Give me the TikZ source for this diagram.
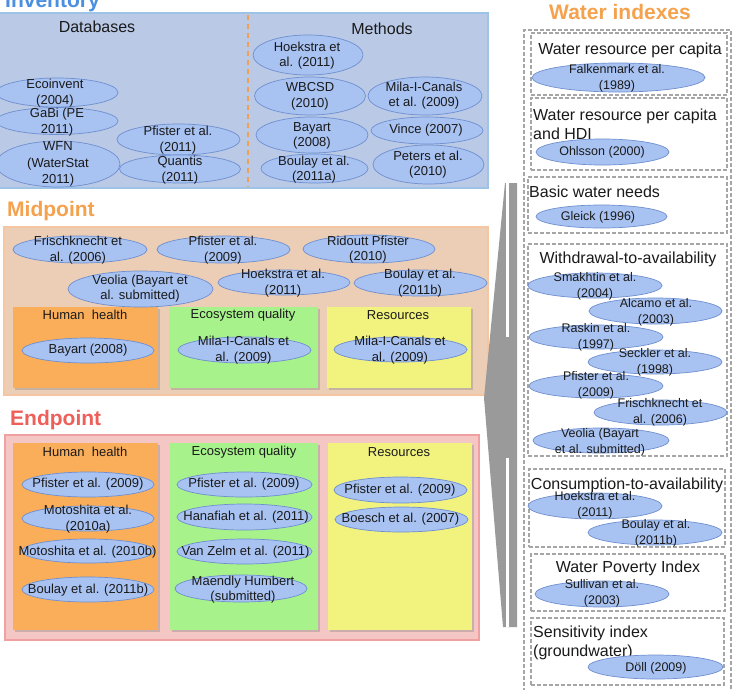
\documentclass[tikz,border=0pt]{standalone}
\usepackage{fontspec}
\setmainfont{Liberation Sans}
\usetikzlibrary{shapes.geometric,shadows}

\definecolor{invfill}{HTML}{B9C9E6}
\definecolor{invline}{HTML}{9DC3E6}
\definecolor{invtitle}{HTML}{4A8FE0}
\definecolor{midfill}{HTML}{ECCEB6}
\definecolor{midline}{HTML}{F6C6A2}
\definecolor{midtitle}{HTML}{F5A24E}
\definecolor{endfill}{HTML}{F4C6C4}
\definecolor{endline}{HTML}{F0A0A0}
\definecolor{endtitle}{HTML}{EF5F5A}
\definecolor{hhfill}{HTML}{FAAE5A}
\definecolor{eqfill}{HTML}{A8F28C}
\definecolor{resfill}{HTML}{F2F27E}
\definecolor{ellfill}{HTML}{A8C2F2}
\definecolor{ellline}{HTML}{6F8FCF}
\definecolor{dashgray}{HTML}{A6A6A6}
\definecolor{arrowgray}{HTML}{9A9A9A}
\definecolor{inktext}{HTML}{1A1A1A}
\definecolor{divorange}{HTML}{F0A050}

\tikzset{
  sectitle/.style={font=\bfseries\fontsize{21}{24}\selectfont, inner sep=0pt, anchor=base west},
  panel/.style={rectangle, line width=1.5pt, inner sep=0pt},
  catbox/.style={rectangle, inner sep=0pt, draw=none,
    drop shadow={opacity=0.35, shadow xshift=2pt, shadow yshift=-2pt}},
  idxbox/.style={rectangle, inner sep=0pt, draw=dashgray, line width=1.2pt,
    dash pattern=on 4pt off 2pt},
  ell/.style={ellipse, draw=ellline, fill=ellfill, line width=0.7pt, inner sep=0pt},
  et/.style={font=\fontsize{13}{15.5}\selectfont, align=center, inner sep=0pt, text=inktext},
  ets/.style={font=\fontsize{12.5}{16}\selectfont, align=center, inner sep=0pt, text=inktext},
  cathead/.style={font=\fontsize{13}{15}\selectfont, inner sep=0pt, text=inktext},
  bighead/.style={font=\fontsize{16}{19}\selectfont, inner sep=0pt, text=inktext},
}

\begin{document}
\begin{tikzpicture}[x=1pt,y=-1pt]
\useasboundingbox (0,0) rectangle (738,689);
\clip (0,0) rectangle (738,689);
\fill[white] (0,0) rectangle (738,689);

% ---------------- Inventory ----------------
\node[sectitle, text=invtitle] (invT) at (5,7) {Inventory};
\node[panel, draw=invline, fill=invfill, minimum width=489, minimum height=175] (inv) at (243.5,100.5) {};
\coordinate (divtop) at (248,15);
\coordinate (divbot) at (248,187);
\draw[divorange, line width=1.5pt, dash pattern=on 5pt off 4pt] (divtop) -- (divbot);
\node[bighead] (dbT) at (97,27) {Databases};
\node[bighead] (meT) at (382,29) {Methods};

\node[ell, minimum width=122, minimum height=29] (e1) at (57,92.5) {};
\node[ell, minimum width=122, minimum height=27] (e2) at (57,121) {};
\node[ell, minimum width=124, minimum height=46] (e3) at (58,164) {};
\node[ell, minimum width=123, minimum height=31] (e4) at (178.5,139.5) {};
\node[ell, minimum width=121, minimum height=28] (e5) at (180,169) {};
\node[ell, minimum width=110, minimum height=40] (m1) at (308,55) {};
\node[ell, minimum width=111, minimum height=38] (m2) at (310,96) {};
\node[ell, minimum width=112, minimum height=36] (m3) at (312,135) {};
\node[ell, minimum width=107, minimum height=29] (m4) at (314.5,168.5) {};
\node[ell, minimum width=114, minimum height=38] (m5) at (425,96) {};
\node[ell, minimum width=112, minimum height=27] (m6) at (427,130.5) {};
\node[ell, minimum width=111, minimum height=39] (m7) at (428.5,164.5) {};

\node[et] (e1t) at (55,93) {Ecoinvent\\(2004)};
\node[et] (e2t) at (57,122) {GaBi (PE\\2011)};
\node[et, font=\fontsize{13}{16.5}\selectfont] (e3t) at (58,164) {WFN\\(WaterStat\\2011)};
\node[et] (e4t) at (178,140) {Pfister et al.\\(2011)};
\node[et] (e5t) at (180,170) {Quantis\\(2011)};
\node[et] (m1t) at (307,55.5) {Hoekstra et\\al. (2011)};
\node[et] (m2t) at (310,96.5) {WBCSD\\(2010)};
\node[et] (m3t) at (312,136) {Bayart\\(2008)};
\node[et] (m4t) at (314,169.5) {Boulay et al.\\(2011a)};
\node[et] (m5t) at (424,95.5) {Mila-I-Canals\\et al. (2009)};
\node[et] (m6t) at (426,130) {Vince (2007)};
\node[et] (m7t) at (428,164.5) {Peters et al.\\(2010)};

% ---------------- Midpoint ----------------
\node[sectitle, text=midtitle] (midT) at (7,216) {Midpoint};
\node[panel, draw=midline, fill=midfill, minimum width=484, minimum height=168] (mid) at (246,311) {};
\node[catbox, fill=hhfill, minimum width=145, minimum height=81] (midhh) at (85.5,347.5) {};
\node[catbox, fill=eqfill, minimum width=149, minimum height=81] (mideq) at (243.5,347.5) {};
\node[catbox, fill=resfill, minimum width=144, minimum height=81] (midres) at (399,347.5) {};
\node[cathead] (midhhT) at (85,315) {Human~ health};
\node[cathead] (mideqT) at (243,315) {Ecosystem quality};
\node[cathead] (midresT) at (398,315) {Resources};

\node[ell, minimum width=134, minimum height=27] (p1) at (80,249.5) {};
\node[ell, minimum width=133, minimum height=27] (p2) at (223.5,249.5) {};
\node[ell, minimum width=132, minimum height=28] (p3) at (369,249) {};
\node[ell, minimum width=145, minimum height=36] (p4) at (140.5,289) {};
\node[ell, minimum width=132, minimum height=25] (p5) at (284,282.5) {};
\node[ell, minimum width=133, minimum height=26] (p6) at (420.5,283) {};
\node[ell, minimum width=132, minimum height=25] (p7) at (88,350.5) {};
\node[ell, minimum width=133, minimum height=26] (p8) at (244.5,350) {};
\node[ell, minimum width=133, minimum height=25] (p9) at (400.5,349.5) {};

\node[et] (p1t) at (78,250) {Frischknecht et\\al. (2006)};
\node[et] (p2t) at (223,250) {Pfister et al.\\(2009)};
\node[et] (p3t) at (368,249.5) {Ridoutt Pfister\\(2010)};
\node[et] (p4t) at (140,288.5) {Veolia (Bayart et\\al. submitted)};
\node[et] (p5t) at (283,283) {Hoekstra et al.\\(2011)};
\node[et] (p6t) at (420,283) {Boulay et al.\\(2011b)};
\node[et] (p7t) at (88,350) {Bayart (2008)};
\node[et] (p8t) at (243.5,350) {Mila-I-Canals et\\al. (2009)};
\node[et] (p9t) at (400,350) {Mila-I-Canals et\\al. (2009)};

% ---------------- Endpoint ----------------
\node[sectitle, text=endtitle] (endT) at (10,425) {Endpoint};
\node[panel, draw=endline, fill=endfill, minimum width=474, minimum height=205] (endp) at (242,537.5) {};
\node[catbox, fill=hhfill, minimum width=145, minimum height=187] (endhh) at (85.5,536.5) {};
\node[catbox, fill=eqfill, minimum width=148, minimum height=187] (endeq) at (244,536.5) {};
\node[catbox, fill=resfill, minimum width=144, minimum height=187] (endres) at (400,536.5) {};
\node[cathead] (endhhT) at (85,452) {Human~ health};
\node[cathead] (endeqT) at (244,452) {Ecosystem quality};
\node[cathead] (endresT) at (399,452) {Resources};

\node[ell, minimum width=132, minimum height=25] (q1) at (88,484.5) {};
\node[ell, minimum width=132, minimum height=25] (q2) at (88,518.5) {};
\node[ell, minimum width=132, minimum height=24] (q3) at (88,551) {};
\node[ell, minimum width=132, minimum height=25] (q4) at (88,589.5) {};
\node[ell, minimum width=135, minimum height=25] (q5) at (244.5,484.5) {};
\node[ell, minimum width=135, minimum height=26] (q6) at (244.5,517) {};
\node[ell, minimum width=135, minimum height=25] (q7) at (244.5,551.5) {};
\node[ell, minimum width=132, minimum height=27] (q8) at (241,588.5) {};
\node[ell, minimum width=133, minimum height=26] (q9) at (400.5,490) {};
\node[ell, minimum width=133, minimum height=25] (q10) at (401.5,519.5) {};

\node[et] (q1t) at (88,484.5) {Pfister et al. (2009)};
\node[et] (q2t) at (88,519) {Motoshita et al.\\(2010a)};
\node[et] (q3t) at (87.5,552) {Motoshita et al. (2010b)};
\node[et] (q4t) at (88,590) {Boulay et al. (2011b)};
\node[et] (q5t) at (244,484.5) {Pfister et al. (2009)};
\node[et] (q6t) at (246,517) {Hanafiah et al. (2011)};
\node[et] (q7t) at (245.5,552) {Van Zelm et al. (2011)};
\node[et] (q8t) at (243,589.5) {Maendly Humbert\\(submitted)};
\node[et] (q9t) at (400,490) {Pfister et al. (2009)};
\node[et] (q10t) at (400.5,519) {Boesch et al. (2007)};

% ---------------- arrow between the two halves ----------------
\coordinate (gA) at (505,183);
\coordinate (gB) at (517,183);
\coordinate (gC) at (517,627);
\coordinate (gD) at (503,627);
\coordinate (gE) at (484,398);
\fill[arrowgray] (gA) -- (gB) -- (gC) -- (gD) -- (gE) -- cycle;
\fill[white] (505.5,183) rectangle (508.5,337);
\fill[white] (505.5,458) rectangle (508.5,627);

% ---------------- Water indexes ----------------
\node[sectitle, text=midtitle] (wiT) at (549,19) {Water indexes};
\node[idxbox, minimum width=207, minimum height=680] (wi) at (627.5,370) {};
\node[idxbox, minimum width=196, minimum height=62] (b1) at (629,64) {};
\node[idxbox, minimum width=196, minimum height=72] (b2) at (629,134) {};
\node[idxbox, minimum width=199, minimum height=56] (b3) at (627.5,205) {};
\node[idxbox, minimum width=199, minimum height=212] (b4) at (627.5,350) {};
\node[idxbox, minimum width=196, minimum height=78] (b5) at (627,508) {};
\node[idxbox, minimum width=194, minimum height=57] (b6) at (628,582.5) {};
\node[idxbox, minimum width=193, minimum height=67] (b7) at (627.5,651.5) {};

\node[bighead] (b1T) at (630,50) {Water resource per capita};
\node[bighead, align=left, anchor=west] (b2T) at (533,124.5) {Water resource per capita\\and HDI};
\node[bighead, anchor=west] (b3T) at (529,192) {Basic water needs};
\node[bighead] (b4T) at (628,259) {Withdrawal-to-availability};
\node[bighead] (b5T) at (627,485) {Consumption-to-availability};
\node[bighead] (b6T) at (628,568) {Water Poverty Index};
\node[bighead, align=left, anchor=west] (b7T) at (533,642.5) {Sensitivity index\\(groundwater)};

\node[ell, minimum width=173, minimum height=29] (r1) at (618.5,77.5) {};
\node[ell, minimum width=133, minimum height=26] (r2) at (602.5,152) {};
\node[ell, minimum width=131, minimum height=23] (r3) at (601.5,216.5) {};
\node[ell, minimum width=134, minimum height=25] (r4) at (595,285.5) {};
\node[ell, minimum width=133, minimum height=26] (r5) at (655.5,311) {};
\node[ell, minimum width=134, minimum height=24] (r6) at (596,337) {};
\node[ell, minimum width=134, minimum height=24] (r7) at (655,362) {};
\node[ell, minimum width=134, minimum height=24] (r8) at (596,386) {};
\node[ell, minimum width=133, minimum height=25] (r9) at (660.5,412.5) {};
\node[ell, minimum width=136, minimum height=25] (r10) at (601,440.5) {};
\node[ell, minimum width=134, minimum height=26] (r11) at (595,506) {};
\node[ell, minimum width=134, minimum height=25] (r12) at (655,532.5) {};
\node[ell, minimum width=134, minimum height=26] (r13) at (602,594) {};
\node[ell, minimum width=135, minimum height=24] (r14) at (655.5,667) {};

\node[ets] (r1t) at (617,78.5) {Falkenmark et al.\\(1989)};
\node[ets] (r2t) at (602,152) {Ohlsson (2000)};
\node[ets] (r3t) at (598,217) {Gleick (1996)};
\node[ets] (r4t) at (595,286) {Smakhtin et al.\\(2004)};
\node[ets] (r5t) at (656,312) {Alcamo et al.\\(2003)};
\node[ets] (r6t) at (596,337) {Raskin et al.\\(1997)};
\node[ets] (r7t) at (655,362.5) {Seckler et al.\\(1998)};
\node[ets] (r8t) at (596,385.5) {Pfister et al.\\(2009)};
\node[ets] (r9t) at (660,412) {Frischknecht et\\al. (2006)};
\node[ets] (r10t) at (600,442) {Veolia (Bayart\\et al. submitted)};
\node[ets] (r11t) at (595,505.5) {Hoekstra et al.\\(2011)};
\node[ets] (r12t) at (656,533) {Boulay et al.\\(2011b)};
\node[ets] (r13t) at (602,593.5) {Sullivan et al.\\(2003)};
\node[ets] (r14t) at (656,668) {Döll (2009)};
\end{tikzpicture}
\end{document}
